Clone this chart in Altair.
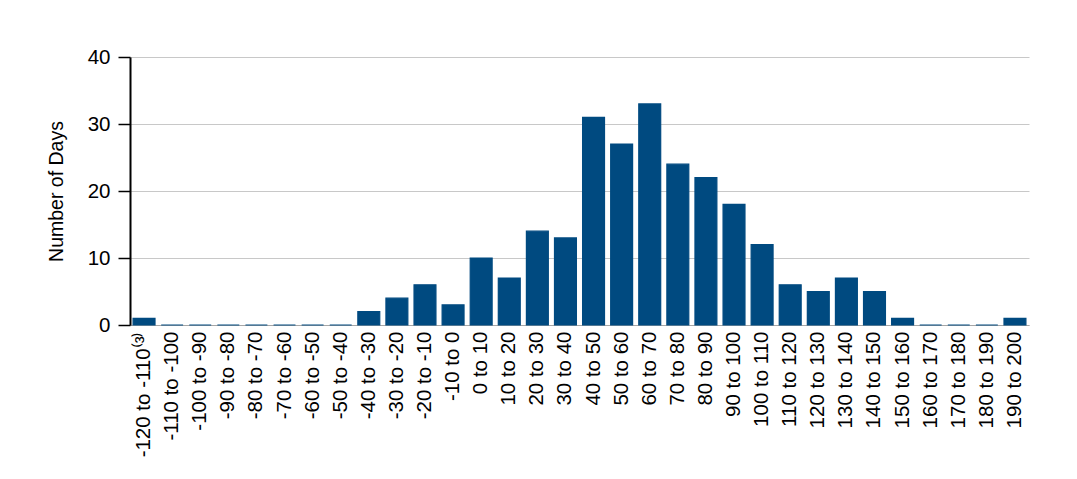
import altair as alt
import pandas as pd

categories = [
    "-120 to -110⁽³⁾", "-110 to -100", "-100 to -90", "-90 to -80", "-80 to -70",
    "-70 to -60", "-60 to -50", "-50 to -40", "-40 to -30", "-30 to -20",
    "-20 to -10", "-10 to 0", "0 to 10", "10 to 20", "20 to 30", "30 to 40",
    "40 to 50", "50 to 60", "60 to 70", "70 to 80", "80 to 90", "90 to 100",
    "100 to 110", "110 to 120", "120 to 130", "130 to 140", "140 to 150",
    "150 to 160", "160 to 170", "170 to 180", "180 to 190", "190 to 200",
]
days = [1, 0, 0, 0, 0, 0, 0, 0, 2, 4, 6, 3, 10, 7, 14, 13,
        31, 27, 33, 24, 22, 18, 12, 6, 5, 7, 5, 1, 0, 0, 0, 1]

df = pd.DataFrame({"range": categories, "days": days})

FONT = "Liberation Sans"
COLOR = "#004A80"

chart = alt.Chart(df).mark_bar(
    color=COLOR, stroke=COLOR, strokeWidth=1.2
).encode(
    x=alt.X("range:N", sort=categories,
            scale=alt.Scale(paddingInner=0.22, paddingOuter=0.11),
            axis=alt.Axis(title=None, labelAngle=-90, labelAlign="right",
                          labelBaseline="middle", labelFontSize=20.5,
                          labelFont=FONT, labelColor="#000000",
                          labelPadding=6, ticks=False,
                          domainColor="#A6A6A6", domainWidth=1,
                          labelOverlap=False)),
    y=alt.Y("days:Q", scale=alt.Scale(domain=[0, 40]),
            axis=alt.Axis(title="Number of Days", values=[0, 10, 20, 30, 40],
                          titleFont=FONT, titleFontSize=19.5, titleFontWeight="normal",
                          titleColor="#000000", titlePadding=21,
                          labelFont=FONT, labelFontSize=20.5, labelColor="#000000",
                          labelPadding=8, tickSize=12, tickColor="#000000",
                          tickWidth=1.5, domainColor="#000000", domainWidth=2,
                          gridColor="#C8C8C8", gridWidth=1)),
).properties(
    width=899, height=268,
    autosize=alt.AutoSizeParams(type="none"),
    padding={"left": 122, "top": 49, "right": 40, "bottom": 150},
).configure_view(stroke=None)

chart.save("out.html", embed_options={"renderer": "svg", "actions": False})
